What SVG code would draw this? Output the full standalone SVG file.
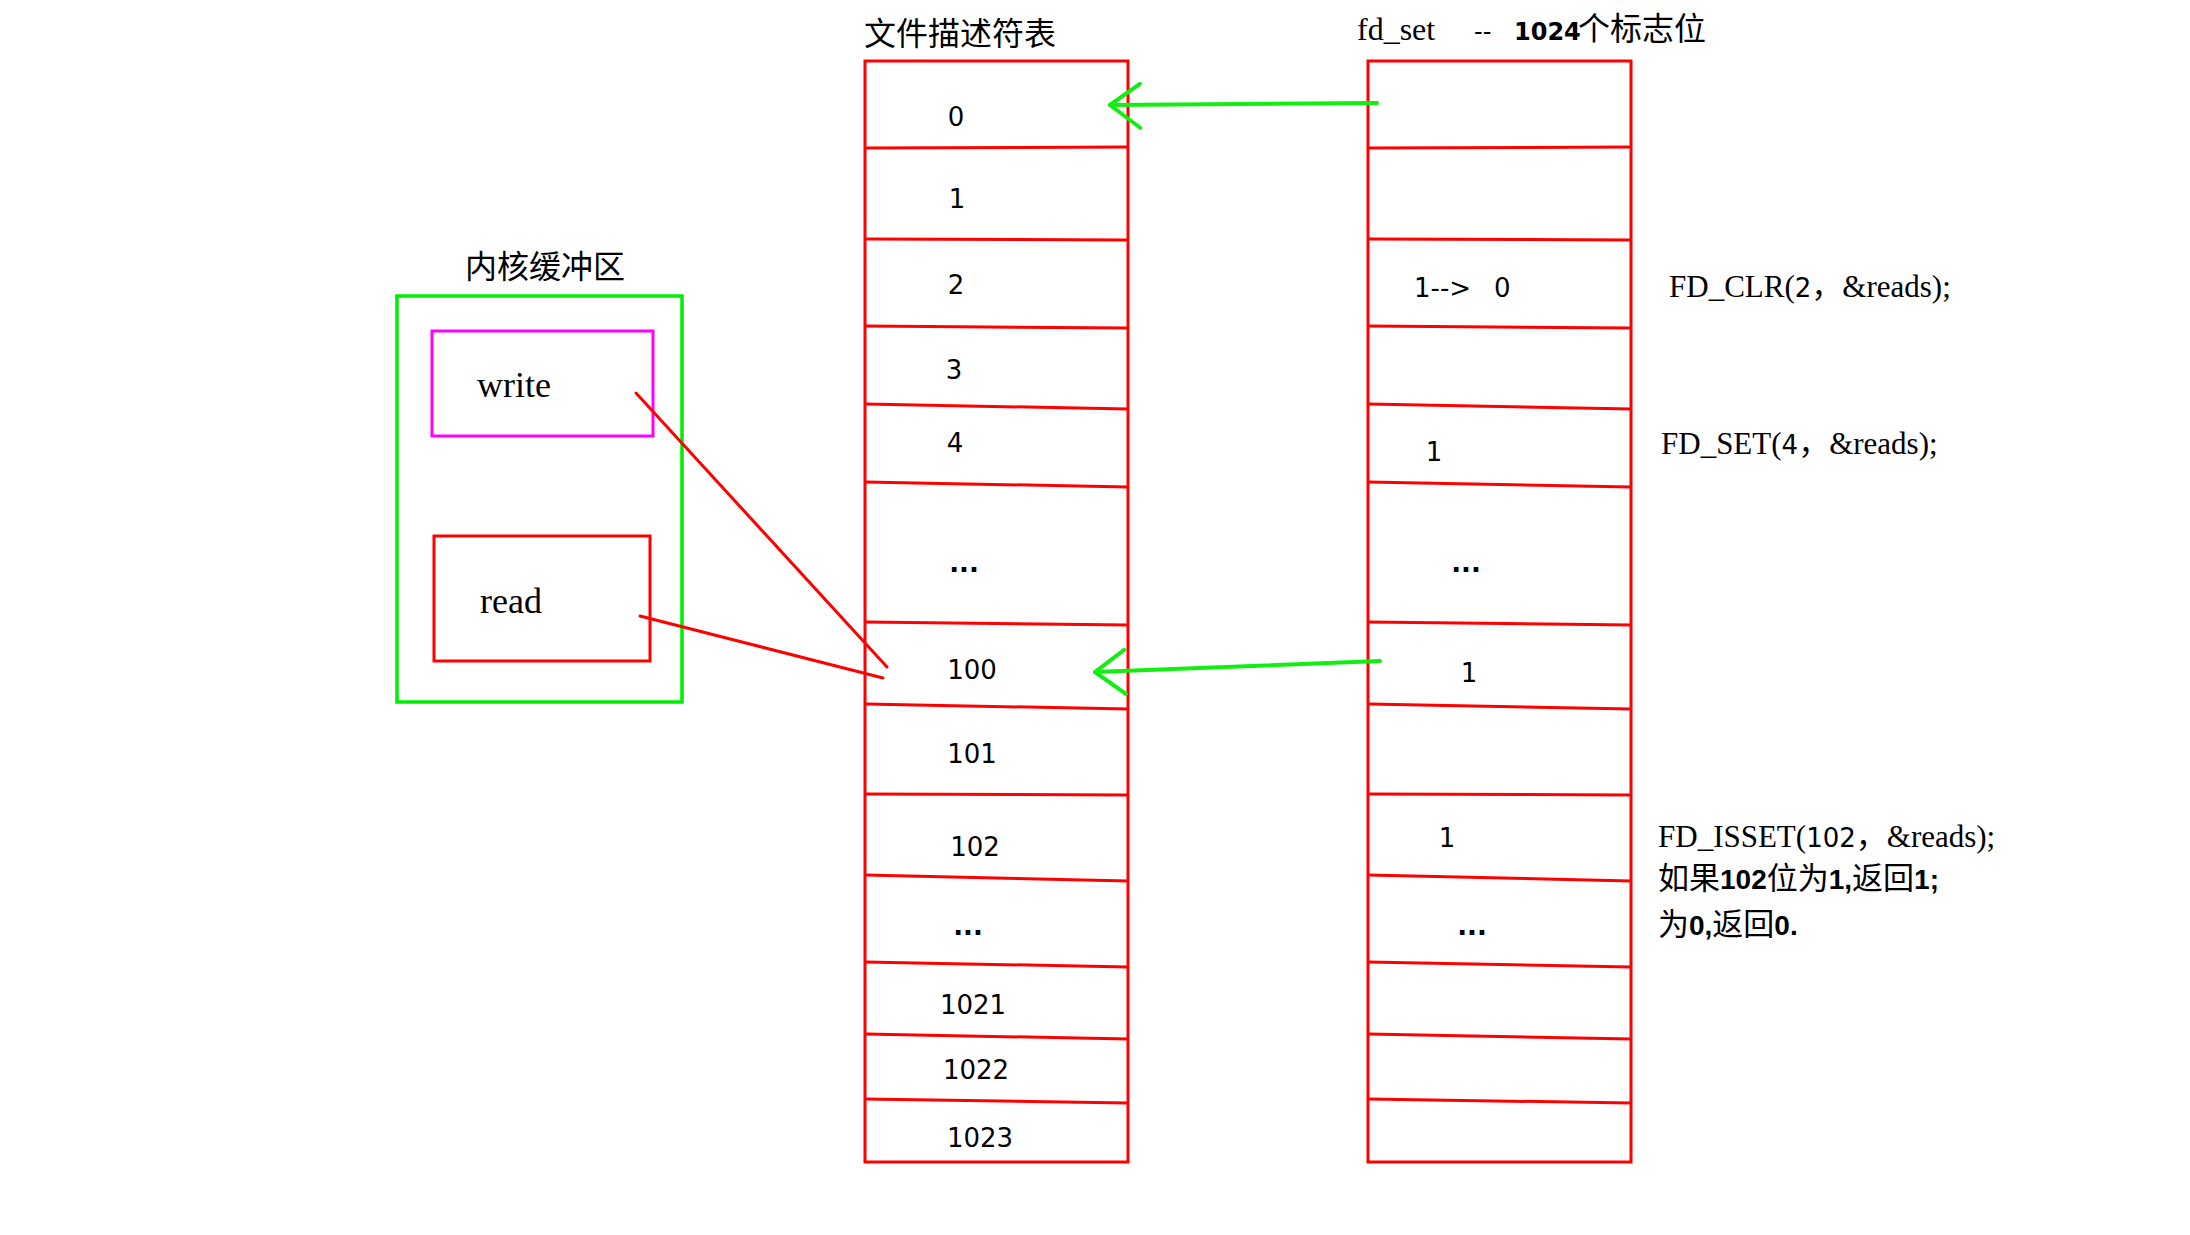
<svg xmlns="http://www.w3.org/2000/svg" width="2190" height="1235" viewBox="0 0 2190 1235">
<style>
.red{fill:none;stroke:#ff0000;stroke-width:3}
.grn{fill:none;stroke:#00ee00;stroke-width:3.5}
.mag{fill:none;stroke:#ff00ff;stroke-width:3}
.link{fill:none;stroke:#ff0000;stroke-width:3;stroke-linecap:round}
.arrow{fill:none;stroke:#11ee11;stroke-width:4;stroke-linecap:round}
.num{font-family:"DejaVu Sans","Liberation Sans",sans-serif;font-size:26px;fill:#000;text-anchor:middle}
.numl{font-family:"DejaVu Sans","Liberation Sans",sans-serif;font-size:26px;fill:#000;text-anchor:start}
.cjk{font-family:"Noto Sans CJK SC",sans-serif;font-size:32px;fill:#000}
.cjk30{font-family:"Noto Sans CJK SC",sans-serif;font-size:31px;fill:#000}
.serif{font-family:"Liberation Serif",serif;fill:#000}
.sd{font-family:"DejaVu Sans",sans-serif;font-size:26px}
.bd{font-family:"Liberation Sans",sans-serif;font-weight:bold;font-size:28px}
</style>
<defs>
<marker id="openHead" markerUnits="userSpaceOnUse" orient="auto" overflow="visible" refX="0" refY="0" markerWidth="1" markerHeight="1">
<path d="M-30 -23L0 0L-30 21" fill="none" stroke="#11ee11" stroke-width="4" stroke-linecap="round" stroke-linejoin="round"/>
</marker>
</defs>
<rect width="2190" height="1235" fill="#ffffff"/>

<g id="kernel-buffer">
<text class="cjk" x="465" y="278">内核缓冲区</text>
<rect class="grn" x="397" y="296" width="285" height="406"/>
</g>

<g id="write-buffer">
<rect class="mag" x="432" y="331" width="221" height="105"/>
<text class="serif" font-size="36" x="477" y="397">write</text>
</g>

<g id="read-buffer">
<rect class="red" x="434" y="536" width="216" height="125"/>
<text class="serif" font-size="36" x="480" y="613">read</text>
</g>

<g id="fd-table">
<text class="cjk" x="864" y="45">文件描述符表</text>
<rect class="red" x="865" y="61" width="263" height="1101"/>
<path class="red" d="M865 148L1128 147M865 239L1128 240M865 326L1128 328M865 404L1128 409M865 482L1128 487M865 622L1128 625M865 704L1128 709M865 794L1128 795M865 875L1128 881M865 962L1128 967M865 1034L1128 1039M865 1099L1128 1103"/>
<text class="num" x="956" y="126">0</text>
<text class="num" x="957" y="208">1</text>
<text class="num" x="956" y="294">2</text>
<text class="num" x="954" y="379">3</text>
<text class="num" x="955" y="452">4</text>
<text class="num" x="964" y="572" font-weight="bold">...</text>
<text class="num" x="972" y="679">100</text>
<text class="num" x="972" y="763">101</text>
<text class="num" x="975" y="856">102</text>
<text class="num" x="968" y="935" font-weight="bold">...</text>
<text class="num" x="973" y="1014">1021</text>
<text class="num" x="976" y="1079">1022</text>
<text class="num" x="980" y="1147">1023</text>
</g>

<g id="fd-set">
<text y="40"><tspan class="serif" font-size="32" x="1357">fd_set</tspan><tspan font-family="DejaVu Sans" font-size="24" x="1474">--</tspan><tspan font-family="DejaVu Sans" font-weight="bold" font-size="24" x="1514">1024</tspan><tspan class="cjk" x="1578">个标志位</tspan></text>
<rect class="red" x="1368" y="61" width="263" height="1101"/>
<path class="red" d="M1368 148L1631 147M1368 239L1631 240M1368 326L1631 328M1368 404L1631 409M1368 482L1631 487M1368 622L1631 625M1368 704L1631 709M1368 794L1631 795M1368 875L1631 881M1368 962L1631 967M1368 1034L1631 1039M1368 1099L1631 1103"/>
<text class="numl" x="1414" y="297">1--&gt;<tspan x="1494">0</tspan></text>
<text class="num" x="1434" y="461">1</text>
<text class="num" x="1466" y="572" font-weight="bold">...</text>
<text class="num" x="1469" y="682">1</text>
<text class="num" x="1447" y="847">1</text>
<text class="num" x="1472" y="935" font-weight="bold">...</text>
</g>

<g id="note-clr">
<text class="serif" font-size="31" x="1669" y="297">FD_CLR(<tspan class="sd">2</tspan><tspan class="cjk30">，</tspan>&amp;reads);</text>
</g>

<g id="note-set">
<text class="serif" font-size="31" x="1661" y="454">FD_SET(<tspan class="sd">4</tspan><tspan class="cjk30">，</tspan>&amp;reads);</text>
</g>

<g id="note-isset">
<text class="serif" font-size="31" x="1658" y="847">FD_ISSET(<tspan class="sd">102</tspan><tspan class="cjk30">，</tspan>&amp;reads);<tspan class="cjk30" x="1658" y="889">如果<tspan class="bd">102</tspan>位为<tspan class="bd">1,</tspan>返回<tspan class="bd">1;</tspan></tspan><tspan class="cjk30" x="1658" y="935">为<tspan class="bd">0,</tspan>返回<tspan class="bd">0.</tspan></tspan></text>
</g>

<g id="connectors">
<path class="link" d="M636 393L887 667"/>
<path class="link" d="M640 616L883 678"/>
<path class="arrow" d="M1377 103L1110 105" marker-end="url(#openHead)"/>
<path class="arrow" d="M1380 661L1095 672" marker-end="url(#openHead)"/>
</g>
</svg>
